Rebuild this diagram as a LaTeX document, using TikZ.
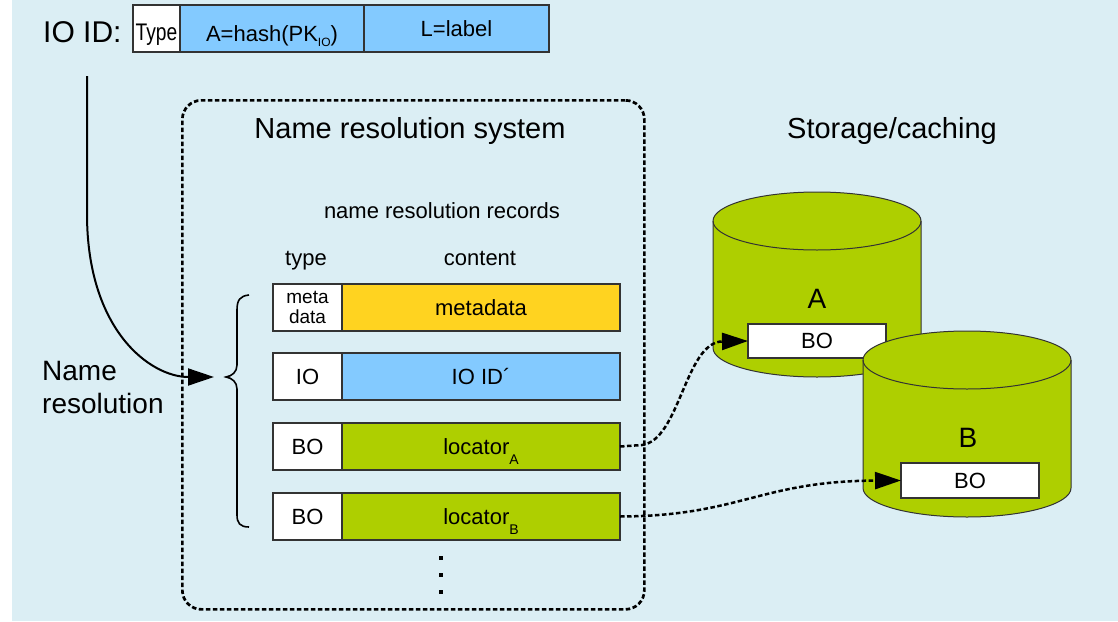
\documentclass[tikz,border=0pt]{standalone}
\usepackage{fontspec}
\setmainfont{Liberation Sans}
\usetikzlibrary{arrows.meta}
\definecolor{bgc}{RGB}{219,238,244}
\definecolor{bluec}{RGB}{131,202,255}
\definecolor{yellowc}{RGB}{255,211,32}
\definecolor{greenc}{RGB}{174,207,0}
\newcommand{\fs}[1]{\fontsize{#1}{#1}\selectfont}
\newcommand{\mycyl}[3]{%
  \filldraw[cyl] (#1-104,#2) -- (#1-104,#3)
    arc[start angle=180,end angle=360,x radius=104pt,y radius=29pt]
    -- (#1+104,#2)
    arc[start angle=0,end angle=180,x radius=104pt,y radius=29pt] -- cycle;
  \draw[cyl, fill=none] (#1-104,#2)
    arc[start angle=180,end angle=360,x radius=104pt,y radius=29pt];}
\begin{document}
\begin{tikzpicture}[x=1pt,y=-1pt,
  box/.style={draw=black!80, line width=1.1pt, inner sep=0pt, outer sep=0pt, anchor=north west},
  rec/.style={box, minimum height=47pt},
  typebox/.style={rec, fill=white, minimum width=69pt},
  contentbox/.style={rec, minimum width=278pt},
  lbl/.style={inner sep=0pt, anchor=base},
  dotline/.style={line width=2.7pt, dash pattern=on 4.5pt off 2.5pt},
  fwd/.style={dotline, line width=2.5pt, -{Triangle[length=26pt,width=17pt]}},
  cyl/.style={fill=greenc, draw=black!80, line width=1pt},
]
\useasboundingbox (0,0) rectangle (1118,621);
\fill[bgc] (12,0) rectangle (1118,621);

% top bar
\node[lbl, anchor=base west] (ioidlbl) at (43,42) {\fs{30}IO ID:};
\node[box, fill=white, minimum width=47pt, minimum height=47pt] (typ) at (133,5) {\fs{24}\smash{\raisebox{-11.5pt}{\scalebox{0.8}[1]{Type}}}};
\node[box, fill=bluec, minimum width=184pt, minimum height=47pt] (hash) at (180,5) {\fs{22}\smash{\raisebox{-13pt}{A=hash(PK\raisebox{-5pt}{\fs{12}IO})}}};
\node[box, fill=bluec, minimum width=185pt, minimum height=47pt] (lab) at (364,5) {\fs{22}L=label};

% name resolution system box
\node[draw, dotline, rounded corners=19pt, inner sep=0pt, minimum width=462pt, minimum height=509pt, anchor=north west] (nrsbox) at (181,99) {};
\node[lbl] (nrs) at (410,138) {\fs{29}Name resolution system};
\node[lbl] (stor) at (892,138) {\fs{29}Storage/caching};
\node[lbl] (nrr) at (442,218) {\fs{22}name resolution records};
\node[lbl] (typeh) at (306,265) {\fs{22}type};
\node[lbl] (conth) at (480,265) {\fs{22}content};

% records
\node[typebox, align=center, font=\fontsize{19}{20}\selectfont] (t1) at (273,284) {meta\\data};
\node[contentbox, fill=yellowc] (c1) at (342,284) {\fs{22}metadata};
\node[typebox] (t2) at (273,353) {\fs{22}IO};
\node[contentbox, fill=bluec] (c2) at (342,353) {\fs{22}IO ID´};
\node[typebox] (t3) at (273,423) {\fs{22}BO};
\node[contentbox, fill=greenc] (c3) at (342,423) {\fs{22}locator\smash{\raisebox{-10pt}{\fs{14}A}}};
\node[typebox] (t4) at (273,493) {\fs{22}BO};
\node[contentbox, fill=greenc] (c4) at (342,493) {\fs{22}locator\smash{\raisebox{-10pt}{\fs{14}B}}};

% vertical dots
\foreach \yy in {558,575,592} \fill (439,\yy-2) rectangle ++(4,4);

% brace
\draw[line width=1.6pt] (249,295) .. controls (240,296) and (237,300) .. (237,310)
  -- (237,365) .. controls (237,372) and (232,376) .. (226,377)
  .. controls (232,378) and (237,382) .. (237,389)
  -- (237,515) .. controls (237,523) and (240,527) .. (249,527);

% name resolution label
\node[lbl, anchor=base west] (nrl1) at (42,380) {\fs{28}Name};
\node[lbl, anchor=base west] (nrl2) at (42,413) {\fs{28}resolution};

% incoming arrow
\coordinate (src) at (87,76);
\coordinate (tip) at (214,377);
\draw[line width=2pt, -{Triangle[length=26pt,width=17pt]}] (src) -- (87,214) .. controls (87,330) and (150,377) .. (tip);

% storage cylinders
\mycyl{817}{221}{348}
\node (cA) at (817,298.5) {\fs{28}A};
\node[box, fill=white, minimum width=138pt, minimum height=34pt] (boA) at (748,324) {\fs{22}BO};
\mycyl{967}{360}{488}
\node (cB) at (968,438) {\fs{28}B};
\node[box, fill=white, minimum width=138pt, minimum height=35pt] (boB) at (901,463) {\fs{22}BO};

% locator arrows
\draw[fwd] (c3.east) -- (642,445) .. controls (680,440) and (685,342) .. (boA.west);
\draw[fwd] (c4.east) .. controls (740,516) and (760,481) .. (boB.west);
\end{tikzpicture}
\end{document}
